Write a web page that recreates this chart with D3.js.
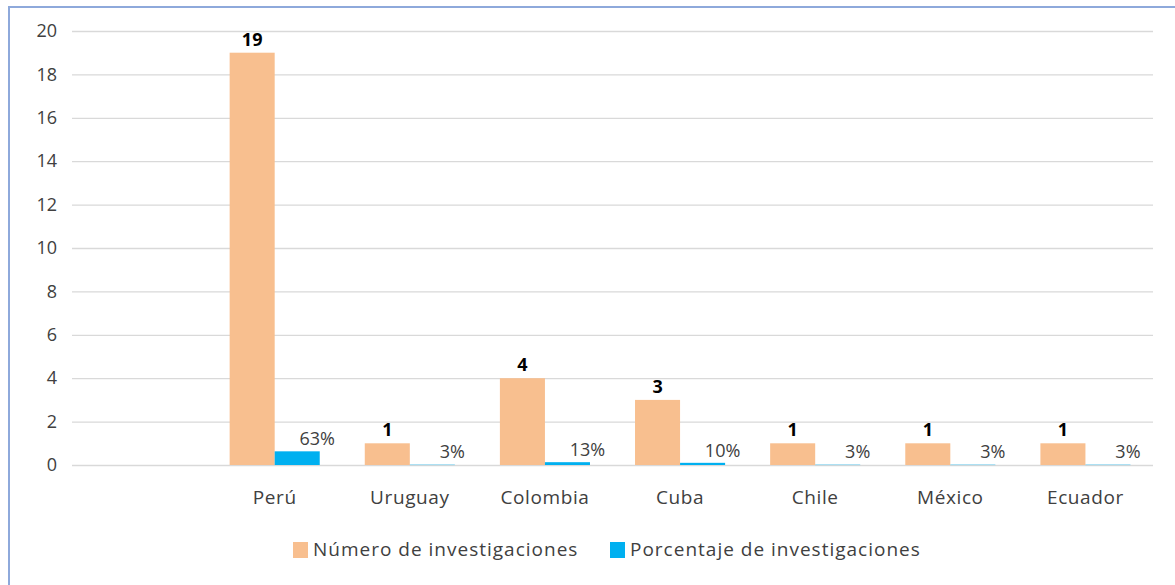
<!DOCTYPE html>
<html>
<head>
<meta charset="utf-8">
<script src="https://cdn.jsdelivr.net/npm/d3@7"></script>
<style>
  body { margin: 0; background: #fff; }
  text { font-family: "Open Sans", "Noto Sans", sans-serif; }
</style>
</head>
<body>
<svg id="chart" width="1175" height="585"></svg>
<script>
// data
const countries = ["", "Perú", "Uruguay", "Colombia", "Cuba", "Chile", "México", "Ecuador"]
const numInvestigaciones = [null, 19, 1, 4, 3, 1, 1, 1]
const pctInvestigaciones = [null, 0.63, 0.03, 0.13, 0.10, 0.03, 0.03, 0.03]
const yTicks = [0, 2, 4, 6, 8, 10, 12, 14, 16, 18, 20]
const seriesNames = ["Número de investigaciones", "Porcentaje de investigaciones"]
const colors = ["#F8BF8F", "#00B0F0"]

const svg = d3.select("#chart")
const margins = { left: 72, right: 22, top: 31, bottom: 120 }
const svgWidth = 1175, svgHeight = 585
const plotWidth = svgWidth - margins.left - margins.right
const plotHeight = svgHeight - margins.top - margins.bottom

// chart frame (left and top edges only visible)
svg.append("path")
    .attr("d", `M9,${svgHeight} V7 H${svgWidth}`)
    .attr("fill", "none")
    .attr("stroke", "#8EA9DB")
    .attr("stroke-width", 2)

const xScale = d3.scaleBand()
    .domain(countries.map((c, i) => i))
    .range([0, plotWidth])
const inner = d3.scaleBand()
    .domain([0, 1])
    .range([0, xScale.bandwidth()])
    .paddingOuter(0.5)
const yScale = d3.scaleLinear()
    .domain([0, 20])
    .range([plotHeight, 0])

const g = svg.append("g")
    .attr("transform", `translate(${margins.left},${margins.top})`)

// gridlines + y labels
const yAxis = g.append("g")
    .call(d3.axisLeft(yScale).tickValues(yTicks).tickSize(-plotWidth).tickPadding(15))
yAxis.select(".domain").remove()
yAxis.selectAll(".tick line").attr("stroke", "#D9D9D9").attr("stroke-width", 1.3)
yAxis.selectAll(".tick text")
    .attr("fill", "#404040")
    .style("font-size", "18px")

// x labels
const xAxis = g.append("g")
    .attr("transform", `translate(0,${plotHeight})`)
    .call(d3.axisBottom(xScale).tickFormat(i => countries[i]).tickSize(0).tickPadding(26))
xAxis.select(".domain").remove()
xAxis.selectAll(".tick text")
    .attr("fill", "#404040")
    .style("font-size", "19px")
    .style("letter-spacing", "0.6px")

const rows = countries.map((c, i) => ({ i, n: numInvestigaciones[i], p: pctInvestigaciones[i] }))
    .filter(d => d.n !== null)

// number bars
g.selectAll(".bar-num")
    .data(rows)
    .enter()
    .append("rect")
    .attr("x", d => xScale(d.i) + inner(0))
    .attr("width", inner.bandwidth())
    .attr("y", d => yScale(d.n))
    .attr("height", d => plotHeight - yScale(d.n))
    .attr("fill", colors[0])

// percentage bars (plotted on the same axis)
g.selectAll(".bar-pct")
    .data(rows)
    .enter()
    .append("rect")
    .attr("x", d => xScale(d.i) + inner(1))
    .attr("width", inner.bandwidth())
    .attr("y", d => yScale(d.p))
    .attr("height", d => Math.max(plotHeight - yScale(d.p), 0.8))
    .attr("fill", colors[1])
    .attr("opacity", d => d.p < 0.05 ? 0.45 : 1)

// labels
g.selectAll(".lbl-num")
    .data(rows)
    .enter()
    .append("text")
    .attr("x", d => xScale(d.i) + inner(0) + inner.bandwidth() / 2)
    .attr("y", d => yScale(d.n) - 7)
    .attr("text-anchor", "middle")
    .attr("font-weight", "bold")
    .attr("fill", "#000")
    .style("font-size", "18px")
    .text(d => d.n)

g.selectAll(".lbl-pct")
    .data(rows)
    .enter()
    .append("text")
    .attr("x", d => xScale(d.i) + inner(1) + inner.bandwidth() / 2 + 20)
    .attr("y", d => yScale(d.p) - 6)
    .attr("text-anchor", "middle")
    .attr("fill", "#404040")
    .style("font-size", "18px")
    .text(d => Math.round(d.p * 100) + "%")

// legend
const legend = svg.append("g").attr("transform", "translate(293,542)")
const items = [{ x: 0 }, { x: 317 }]
seriesNames.forEach((name, i) => {
    const it = legend.append("g").attr("transform", `translate(${items[i].x},0)`)
    it.append("rect").attr("width", 15).attr("height", 16).attr("fill", colors[i])
    it.append("text")
        .attr("x", 20)
        .attr("y", 9)
        .attr("dominant-baseline", "middle")
        .attr("fill", "#404040")
        .style("font-size", "19px")
        .style("letter-spacing", "1px")
        .text(name)
})
</script>
</body>
</html>
